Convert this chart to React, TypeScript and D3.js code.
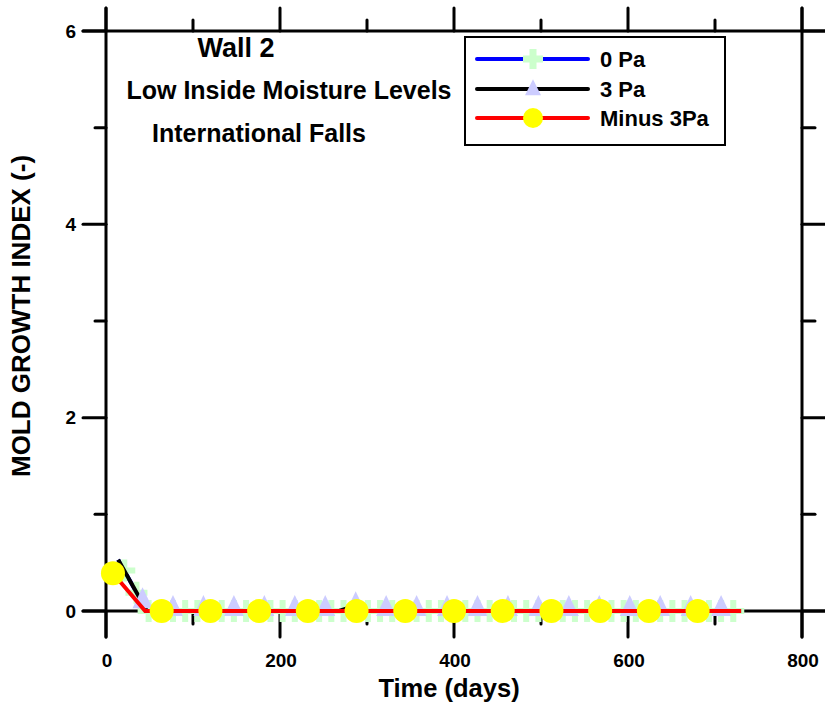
import React from "react";
import * as d3 from "d3";

const W = 825;
const H = 707;

// x: days, y: mold growth index
const xTicksMajor = [0, 200, 400, 600, 800];
const xTicksMinor = [100, 300, 500, 700];
const yTicksMajor = [0, 2, 4, 6];
const yTicksMinor = [1, 3, 5];

const seriesNames = ["0 Pa", "3 Pa", "Minus 3Pa"];

// line breakpoints [day, index]
const line0Pa: [number, number][] = [[14, 0.53], [47, 0], [730, 0]];
const line3Pa: [number, number][] = [[14, 0.53], [47, 0], [268, 0], [285, 0.05], [300, 0], [730, 0]];
const lineMinus3Pa: [number, number][] = [[8, 0.39], [45, 0], [730, 0]];

// marker points [day, index]
const plus0Pa: [number, number][] = [
  [21, 0.42], [35, 0.19], [49, 0], [63, 0], [77, 0], [91, 0], [105, 0], [119, 0], [133, 0], [147, 0],
  [161, 0], [175, 0], [189, 0], [203, 0], [217, 0], [231, 0], [245, 0], [259, 0], [273, 0], [287, 0],
  [301, 0], [315, 0], [329, 0], [343, 0], [357, 0], [371, 0], [385, 0], [399, 0], [413, 0], [427, 0],
  [441, 0], [455, 0], [469, 0], [483, 0], [497, 0], [511, 0], [525, 0], [539, 0], [553, 0], [567, 0],
  [581, 0], [595, 0], [609, 0], [623, 0], [637, 0], [651, 0], [665, 0], [679, 0], [693, 0], [707, 0],
  [721, 0],
];
const tri3Pa: [number, number][] = [
  [42, 0.08], [77, 0], [112, 0], [147, 0], [182, 0], [217, 0], [252, 0], [287, 0.04], [322, 0], [357, 0],
  [392, 0], [427, 0], [462, 0], [497, 0], [532, 0], [567, 0], [602, 0], [637, 0], [672, 0], [707, 0],
];
const circMinus3Pa: [number, number][] = [
  [8, 0.39], [64, 0], [120, 0], [176, 0], [232, 0], [288, 0], [344, 0], [400, 0], [456, 0], [512, 0],
  [568, 0], [624, 0], [680, 0],
];

const FONT = "'Liberation Sans', Arial, sans-serif";

export default function App() {
  const x = d3.scaleLinear().domain([0, 800]).range([106, 802]);
  const y = d3.scaleLinear().domain([0, 6]).range([611, 31]);
  const line = d3
    .line<[number, number]>()
    .x((d) => x(d[0]))
    .y((d) => y(d[1]));

  const x0 = x(0), x1 = x(800), y0 = y(0), y1 = y(6);
  const ext = 24;
  const minorLen = 11;

  const plusPath = (cx: number, cy: number, s: number, t: number) =>
    `M${cx - t / 2},${cy - s / 2}h${t}v${s / 2 - t / 2}h${s / 2 - t / 2}v${t}h${-(s / 2 - t / 2)}v${s / 2 - t / 2}h${-t}v${-(s / 2 - t / 2)}h${-(s / 2 - t / 2)}v${-t}h${s / 2 - t / 2}z`;
  const triPath = (cx: number, cy: number, w: number, h: number) =>
    `M${cx},${cy - (h * 2) / 3}L${cx + w / 2},${cy + h / 3}L${cx - w / 2},${cy + h / 3}Z`;

  const legendRows = [59, 89, 118];

  return (
    <svg width={W} height={H} style={{ position: "absolute", left: 0, top: 0, background: "#fff" }} fontFamily={FONT}>
      <rect x={0} y={0} width={W} height={H} fill="#fff" />
      {/* frame */}
      <g stroke="#000" strokeWidth={3} strokeLinecap="round">
        <line x1={x0} x2={x0} y1={y1 - ext + 1} y2={y0 + ext + 2} />
        <line x1={x1} x2={x1} y1={y1 - ext + 1} y2={y0 + ext + 2} />
        <line x1={x0 - ext + 1} x2={W} y1={y1} y2={y1} />
        <line x1={x0 - ext + 1} x2={W} y1={y0} y2={y0} />
        {xTicksMajor.map((t) => (
          <g key={"xm" + t}>
            <line x1={x(t)} x2={x(t)} y1={y1} y2={y1 - ext + 1} />
            <line x1={x(t)} x2={x(t)} y1={y0} y2={y0 + ext + 2} />
          </g>
        ))}
        {xTicksMinor.map((t) => (
          <g key={"xn" + t}>
            <line x1={x(t)} x2={x(t)} y1={y1} y2={y1 - minorLen} />
            <line x1={x(t)} x2={x(t)} y1={y0} y2={y0 + minorLen + 2} />
          </g>
        ))}
        {yTicksMajor.map((t) => (
          <g key={"ym" + t}>
            <line x1={x0} x2={x0 - ext + 1} y1={y(t)} y2={y(t)} />
            <line x1={x1} x2={W} y1={y(t)} y2={y(t)} />
          </g>
        ))}
        {yTicksMinor.map((t) => (
          <g key={"yn" + t}>
            <line x1={x0} x2={x0 - minorLen} y1={y(t)} y2={y(t)} />
            <line x1={x1} x2={x1 + minorLen + 2} y1={y(t)} y2={y(t)} />
          </g>
        ))}
      </g>
      {/* tick labels */}
      <g fontSize={19} fontWeight="bold" fill="#000">
        {xTicksMajor.map((t) => (
          <text key={"xl" + t} x={x(t) + 1} y={667} textAnchor="middle">
            {t}
          </text>
        ))}
        {yTicksMajor.map((t) => (
          <text key={"yl" + t} x={76} y={y(t)} textAnchor="end" dominantBaseline="central">
            {t}
          </text>
        ))}
      </g>
      {/* axis titles */}
      <text x={449} y={697} textAnchor="middle" fontSize={25.5} fontWeight="bold">
        Time (days)
      </text>
      <text
        transform={`translate(21,316) rotate(-90)`}
        textAnchor="middle"
        dominantBaseline="central"
        fontSize={26}
        fontWeight="bold"
      >
        MOLD GROWTH INDEX (-)
      </text>
      {/* chart titles */}
      <text x={236} y={57} textAnchor="middle" fontSize={27} fontWeight="bold">
        Wall 2
      </text>
      <text x={289} y={99} textAnchor="middle" fontSize={25} fontWeight="bold">
        Low Inside Moisture Levels
      </text>
      <text x={259} y={142} textAnchor="middle" fontSize={25} fontWeight="bold">
        International Falls
      </text>

      {/* series 0 Pa */}
      <path d={line(line0Pa) || ""} fill="none" stroke="#0000ff" strokeWidth={4} />
      {plus0Pa.map((d, i) => (
        <path key={"p" + i} d={plusPath(x(d[0]), y(d[1]), 22, 6)} fill="#ccffcc" />
      ))}
      {/* series 3 Pa */}
      <path d={line(line3Pa) || ""} fill="none" stroke="#000" strokeWidth={4} />
      {tri3Pa.map((d, i) => (
        <path key={"t" + i} d={triPath(x(d[0]), y(d[1]) - 2, 20, 21)} fill="#ccccff" />
      ))}
      {/* series Minus 3Pa */}
      <path d={line(lineMinus3Pa) || ""} fill="none" stroke="#ff0000" strokeWidth={4} />
      {circMinus3Pa.map((d, i) => (
        <circle key={"c" + i} cx={x(d[0])} cy={y(d[1])} r={12} fill="#ffff00" />
      ))}

      {/* legend */}
      <rect x={465} y={37} width={260} height={108} fill="#fff" stroke="#000" strokeWidth={2} />
      {seriesNames.map((name, i) => {
        const ly = legendRows[i];
        const colors = ["#0000ff", "#000", "#ff0000"];
        return (
          <g key={name}>
            <line x1={477} x2={588} y1={ly} y2={ly} stroke={colors[i]} strokeWidth={4} strokeLinecap="round" />
            {i === 0 && <path d={plusPath(533, ly, 20, 7)} fill="#ccffcc" />}
            {i === 1 && <path d={triPath(533, ly + 1, 16, 16)} fill="#ccccff" />}
            {i === 2 && <circle cx={533} cy={ly} r={10} fill="#ffff00" />}
            <text x={600} y={ly} dominantBaseline="central" fontSize={22} fontWeight="bold">
              {name}
            </text>
          </g>
        );
      })}
    </svg>
  );
}
